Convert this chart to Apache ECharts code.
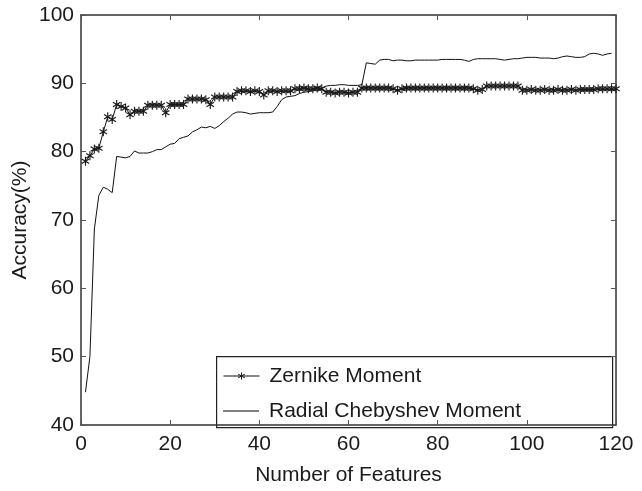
<!DOCTYPE html>
<html>
<head>
<meta charset="utf-8">
<script src="https://cdn.jsdelivr.net/npm/echarts@6/dist/echarts.min.js"></script>
<style>html,body{margin:0;padding:0;background:#fff;}#c{width:642px;height:491px;}</style>
</head>
<body>
<div id="c"></div>
<script>
var features = [1,2,3,4,5,6,7,8,9,10,11,12,13,14,15,16,17,18,19,20,21,22,23,24,25,26,27,28,29,30,31,32,33,34,35,36,37,38,39,40,41,42,43,44,45,46,47,48,49,50,51,52,53,54,55,56,57,58,59,60,61,62,63,64,65,66,67,68,69,70,71,72,73,74,75,76,77,78,79,80,81,82,83,84,85,86,87,88,89,90,91,92,93,94,95,96,97,98,99,100,101,102,103,104,105,106,107,108,109,110,111,112,113,114,115,116,117,118,119,120];
var zernike = [78.6,79.4,80.4,80.5,82.9,85.1,84.7,86.9,86.6,86.4,85.4,85.9,85.9,85.9,86.8,86.8,86.8,86.8,85.7,86.9,86.9,86.9,86.9,87.7,87.7,87.7,87.7,87.6,86.9,88.0,88.0,88.0,88.0,88.0,88.8,88.9,88.9,88.8,88.9,88.8,88.3,88.9,88.9,88.8,88.9,88.9,88.9,89.2,89.2,89.3,89.2,89.2,89.3,89.2,88.7,88.7,88.6,88.7,88.7,88.6,88.7,88.7,89.3,89.3,89.3,89.3,89.3,89.3,89.3,89.2,89.0,89.2,89.3,89.3,89.3,89.3,89.3,89.3,89.3,89.3,89.3,89.3,89.3,89.3,89.3,89.3,89.3,89.2,89.0,89.1,89.6,89.6,89.6,89.6,89.6,89.6,89.6,89.6,89.0,89.0,89.1,89.0,89.0,89.1,89.0,89.0,89.1,89.0,89.0,89.1,89.0,89.1,89.1,89.1,89.1,89.2,89.2,89.2,89.2,89.2];
var chebyshev = [44.8,50.0,68.7,73.6,74.8,74.5,74.0,79.3,79.2,79.1,79.3,80.1,79.8,79.8,79.8,80.0,80.3,80.3,80.7,81.1,81.2,81.9,82.1,82.3,82.9,83.2,83.6,83.5,83.7,83.4,83.8,84.4,84.9,85.5,85.8,85.8,85.7,85.5,85.6,85.7,85.7,85.7,85.8,86.6,87.6,88.0,88.1,88.2,88.5,88.7,88.8,88.9,89.0,89.3,89.6,89.7,89.7,89.8,89.8,89.7,89.7,89.7,89.8,93.0,92.9,92.8,93.4,93.5,93.5,93.3,93.4,93.4,93.3,93.3,93.4,93.4,93.4,93.4,93.4,93.4,93.5,93.5,93.5,93.5,93.5,93.4,93.2,93.5,93.6,93.6,93.6,93.6,93.6,93.5,93.4,93.5,93.6,93.6,93.7,93.8,93.8,93.8,93.7,93.7,93.7,93.6,93.7,93.9,94.0,93.9,93.8,93.8,93.9,94.3,94.4,94.3,94.1,94.3,94.4];
var xTicks = [0,20,40,60,80,100,120];
var yTicks = [40,50,60,70,80,90,100];

var font = 'Liberation Sans, Arial, Helvetica, sans-serif';
var star = 'path://M-1.3,-10L1.3,-10L1.3,10L-1.3,10Z M8.01,-6.13L9.31,-3.87L-8.01,6.13L-9.31,3.87Z M9.31,3.87L8.01,6.13L-9.31,-3.87L-8.01,-6.13Z';

function pairs(vals){ var out=[]; for (var i=0;i<vals.length;i++){ out.push([features[i], vals[i]]); } return out; }

var chart = echarts.init(document.getElementById('c'), null, {renderer:'canvas'});
var axisLineStyle = {color:'#333', width:1.5};
var tickStyle = {color:'#555', width:1};
chart.setOption({
  animation:false,
  backgroundColor:'#fff',
  grid:{left:81, right:26, top:15, bottom:58, show:false},
  xAxis:[{
    type:'value', min:0, max:120, interval:20, position:'bottom',
    name:'Number of Features', nameLocation:'middle', nameGap:40, nameMoveOverlap:false,
    nameTextStyle:{color:'#1a1a1a', fontSize:21, fontFamily:font},
    axisLine:{show:true, onZero:false, lineStyle:axisLineStyle},
    axisTick:{show:true, inside:true, length:5, lineStyle:tickStyle},
    axisLabel:{margin:9, color:'#1a1a1a', fontSize:21, fontFamily:font,
      formatter:function(v){ return xTicks.indexOf(v)>=0 ? String(v) : ''; }},
    splitLine:{show:false}
  },{
    type:'value', min:0, max:120, interval:20, position:'top',
    axisLine:{show:true, onZero:false, lineStyle:axisLineStyle},
    axisTick:{show:true, inside:true, length:5, lineStyle:tickStyle},
    axisLabel:{show:false}, splitLine:{show:false}
  }],
  yAxis:[{
    type:'value', min:40, max:100, interval:10, position:'left',
    name:'Accuracy(%)', nameLocation:'middle', nameGap:50, nameRotate:90, nameMoveOverlap:false,
    nameTextStyle:{color:'#1a1a1a', fontSize:21, fontFamily:font},
    axisLine:{show:true, onZero:false, lineStyle:axisLineStyle},
    axisTick:{show:true, inside:true, length:5, lineStyle:tickStyle},
    axisLabel:{margin:7, color:'#1a1a1a', fontSize:21, fontFamily:font,
      formatter:function(v){ return yTicks.indexOf(v)>=0 ? String(v) : ''; }},
    splitLine:{show:false}
  },{
    type:'value', min:40, max:100, interval:10, position:'right',
    axisLine:{show:true, onZero:false, lineStyle:axisLineStyle},
    axisTick:{show:true, inside:true, length:5, lineStyle:tickStyle},
    axisLabel:{show:false}, splitLine:{show:false}
  }],
  legend:[{
    data:['Zernike Moment'], orient:'vertical', left:223, top:364, padding:0,
    itemWidth:36, itemHeight:9, itemGap:0,
    lineStyle:{width:1, color:'#111'},
    textStyle:{color:'#1a1a1a', fontSize:21, fontFamily:font, lineHeight:24, padding:[0,0,0,5]}
  },{
    data:[{name:'Radial Chebyshev Moment', icon:'rect'}], orient:'vertical', left:223, top:399, padding:0,
    itemWidth:36, itemHeight:1, itemGap:0,
    itemStyle:{color:'#000'},
    textStyle:{color:'#1a1a1a', fontSize:21, fontFamily:font, lineHeight:24, padding:[0,0,0,5]}
  }],
  graphic:[{
    type:'rect', left:216, top:356, z:-1,
    shape:{width:396, height:71},
    style:{fill:'#fff', stroke:'#222', lineWidth:1.2}
  }],
  series:[{
    name:'Zernike Moment', type:'line', data:pairs(zernike),
    symbol:star, symbolSize:[8,9], showSymbol:true,
    itemStyle:{color:'#1a1a1a'},
    lineStyle:{color:'#111', width:1},
    z:3
  },{
    name:'Radial Chebyshev Moment', type:'line', data:pairs(chebyshev),
    symbol:'none', showSymbol:false,
    itemStyle:{color:'#111'},
    lineStyle:{color:'#111', width:1},
    z:2
  }]
});
</script>
</body>
</html>
